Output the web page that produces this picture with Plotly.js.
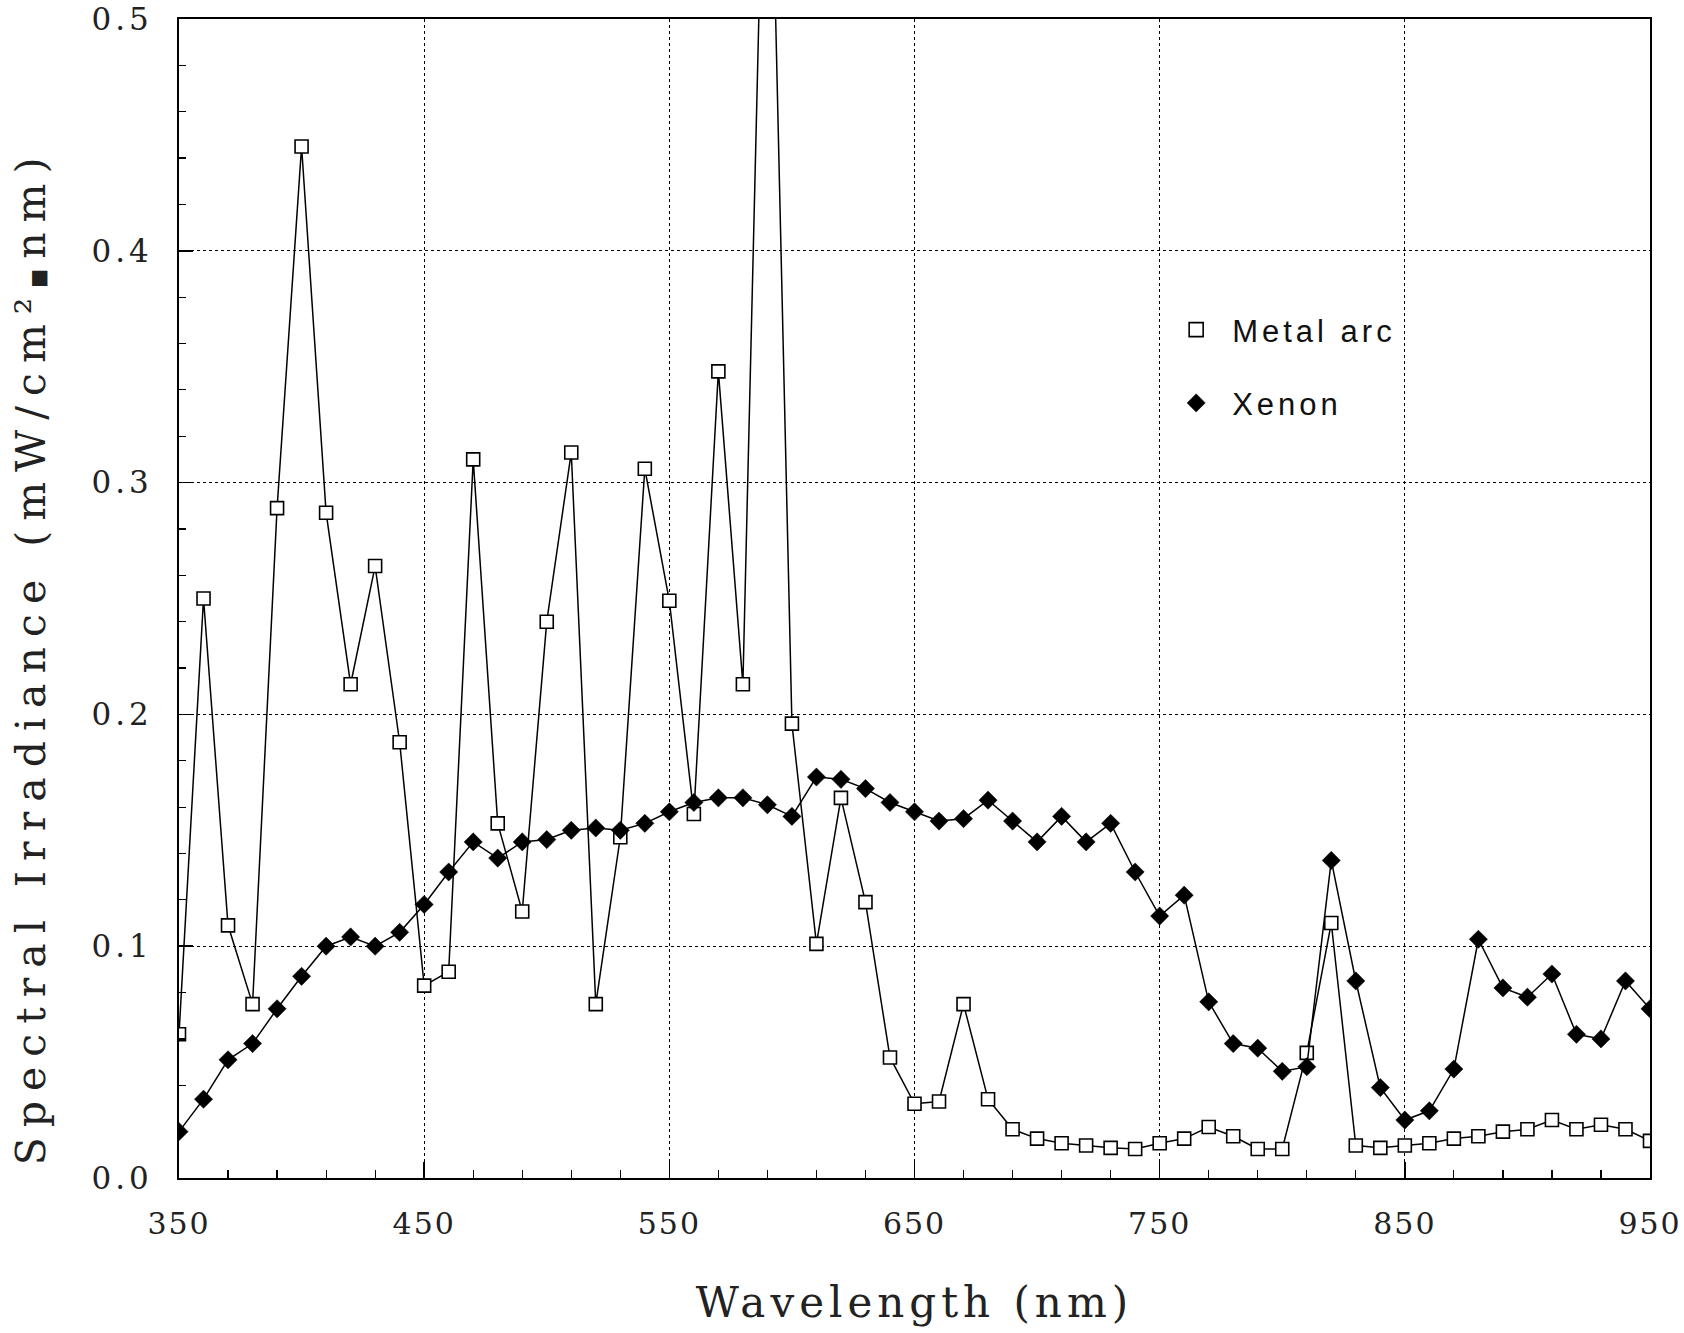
<!DOCTYPE html>
<html>
<head>
<meta charset="utf-8">
<script src="https://cdn.plot.ly/plotly-3.0.1.min.js"></script>
<style>
  html, body { margin: 0; padding: 0; background: #fff; }
  #chart { width: 1684px; height: 1333px; }
  .annotation-text { letter-spacing: 10px; }
  .g-xtitle text { letter-spacing: 5px; }
  .legendtext { letter-spacing: 4px; }
  .ytick text { letter-spacing: 4px; }
  .xtick text { letter-spacing: 2px; }
</style>
</head>
<body>
<div id="chart"></div>
<script>
const wavelength = [350,360,370,380,390,400,410,420,430,440,450,460,470,480,490,500,510,520,530,540,550,560,570,580,590,600,610,620,630,640,650,660,670,680,690,700,710,720,730,740,750,760,770,780,790,800,810,820,830,840,850,860,870,880,890,900,910,920,930,940,950];

const metalArc = [0.062,0.250,0.109,0.075,0.289,0.445,0.287,0.213,0.264,0.188,
                  0.083,0.089,0.310,0.153,0.115,0.240,0.313,0.075,0.147,0.306,
                  0.249,0.157,0.348,0.213,0.655,0.196,0.101,0.164,0.119,0.052,
                  0.032,0.033,0.075,0.034,0.021,0.017,0.015,0.014,0.013,0.0125,
                  0.015,0.017,0.022,0.018,0.0125,0.0125,0.054,0.110,0.014,0.013,
                  0.014,0.015,0.017,0.018,0.020,0.021,0.025,0.021,0.023,0.021,0.016];

const xenon = [0.020,0.034,0.051,0.058,0.073,0.087,0.100,0.104,0.100,0.106,
               0.118,0.132,0.145,0.138,0.145,0.146,0.150,0.151,0.150,0.153,
               0.158,0.162,0.164,0.164,0.161,0.156,0.173,0.172,0.168,0.162,
               0.158,0.154,0.155,0.163,0.154,0.145,0.156,0.145,0.153,0.132,
               0.113,0.122,0.076,0.058,0.056,0.046,0.048,0.137,0.085,0.039,
               0.025,0.029,0.047,0.103,0.082,0.078,0.088,0.062,0.060,0.085,0.073];

const seriesNames = ["Metal arc", "Xenon"];
const xTickVals = [350,450,550,650,750,850,950];
const yTickVals = [0.0,0.1,0.2,0.3,0.4,0.5];
const xTitle = "Wavelength (nm)";
const yTitle = "Spectral Irradiance (mW/cm²<span style=\"font-size:20px\">■</span>nm)";

const serif = "DejaVu Serif, Liberation Serif, serif";
const sans = "Liberation Sans, Arial, sans-serif";

const squareMarker = {symbol: "square-open", size: 13, color: "#000", line: {color: "#000", width: 1.6}};
const diamondMarker = {symbol: "diamond", size: 14, color: "#000", line: {color: "#000", width: 0.5}};

const traces = [
  {x: wavelength, y: metalArc, mode: "lines+markers", name: seriesNames[0], showlegend: false,
   line: {color: "#000", width: 1.5}, marker: Object.assign({}, squareMarker, {symbol: "square", color: "#fff"})},
  {x: wavelength, y: xenon, mode: "lines+markers", name: seriesNames[1], showlegend: false,
   line: {color: "#000", width: 1.5}, marker: diamondMarker},
  {x: [null], y: [null], mode: "markers", name: seriesNames[0], legendgroup: "a",
   marker: Object.assign({}, squareMarker, {size: 14})},
  {x: [null], y: [null], mode: "markers", name: seriesNames[1], legendgroup: "b",
   marker: Object.assign({}, diamondMarker, {size: 14})}
];

const layout = {
  width: 1684, height: 1333,
  margin: {l: 179, r: 34, t: 19, b: 155},
  paper_bgcolor: "#fff", plot_bgcolor: "#fff",
  showlegend: true,
  legend: {x: 0.667, y: 0.755, xanchor: "left", yanchor: "top",
           bgcolor: "rgba(0,0,0,0)", font: {family: sans, size: 31, color: "#111"},
           traceorder: "grouped", tracegroupgap: 30, itemwidth: 62},
  xaxis: {
    range: [350, 950], tickvals: xTickVals, ticktext: xTickVals.map(String),
    ticks: "inside", ticklen: 16, tickwidth: 1.5, tickcolor: "#000",
    showline: true, linecolor: "#000", linewidth: 2, mirror: true,
    showgrid: true, gridcolor: "#000", gridwidth: 1.2, griddash: "dot",
    zeroline: false, ticklabelstandoff: 18,
    tickfont: {family: serif, size: 30, color: "#222"},
    minor: {dtick: 20, tick0: 350, ticks: "inside", ticklen: 8, tickwidth: 1.2, tickcolor: "#000", showgrid: false},
    title: {text: xTitle, font: {family: serif, size: 42, color: "#222"}, standoff: 48}
  },
  yaxis: {
    range: [0, 0.5], tickvals: yTickVals, tickformat: ".1f",
    ticks: "inside", ticklen: 14, tickwidth: 1.5, tickcolor: "#000",
    showline: true, linecolor: "#000", linewidth: 2, mirror: true,
    showgrid: true, gridcolor: "#000", gridwidth: 1.2, griddash: "dot",
    zeroline: false, ticklabelstandoff: 18,
    tickfont: {family: serif, size: 31, color: "#222"},
    minor: {dtick: 0.02, ticks: "inside", ticklen: 7, tickwidth: 1.2, tickcolor: "#000", showgrid: false}
  },
  annotations: [
    {text: yTitle, xref: "paper", yref: "paper", x: -0.1, y: 0.45,
     xanchor: "center", yanchor: "middle", textangle: -90, showarrow: false,
     font: {family: serif, size: 41, color: "#222"}}
  ]
};

Plotly.newPlot("chart", traces, layout, {displayModeBar: false, staticPlot: true});
</script>
</body>
</html>
